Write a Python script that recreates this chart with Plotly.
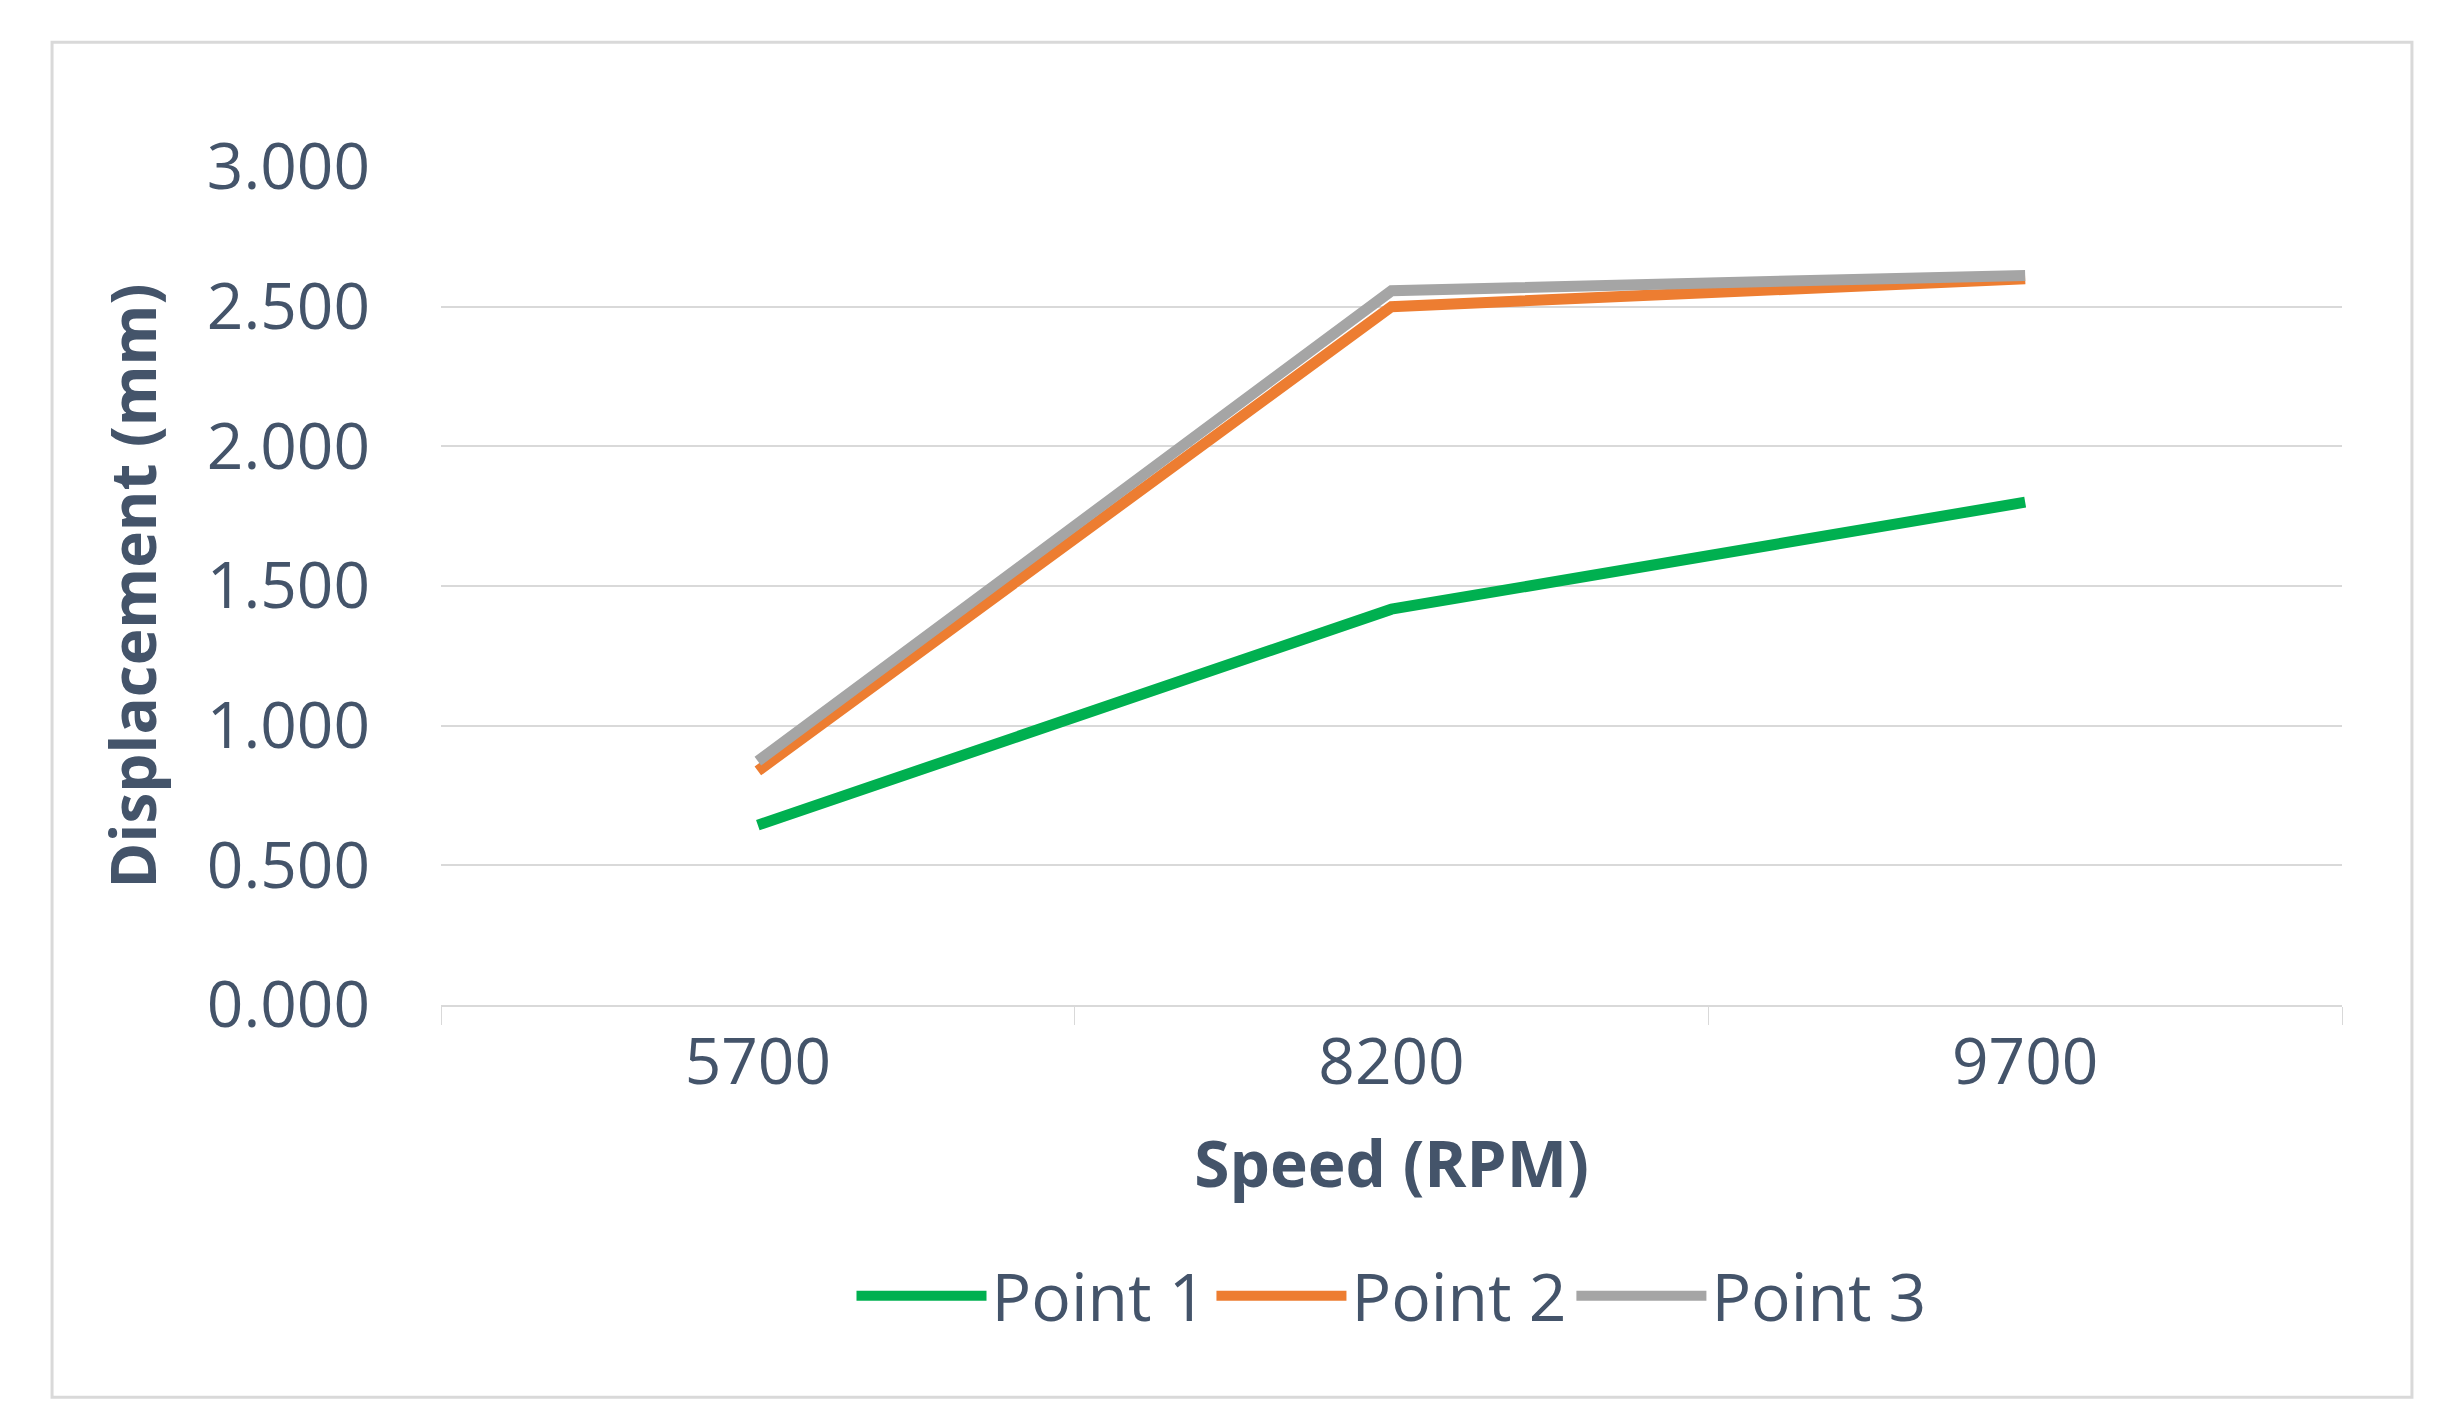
import plotly.graph_objects as go

speeds = ["5700", "8200", "9700"]
point1 = [0.644, 1.417, 1.800]
point2 = [0.838, 2.500, 2.600]
point3 = [0.873, 2.557, 2.612]
yticks = [0, 0.5, 1, 1.5, 2, 2.5, 3]

C = "#44546A"
F = "Open Sans"
fig = go.Figure()
series = [("Point 1", point1, "#00B050", [-42, 0, 0], [18, 18, 18]),
          ("Point 2", point2, "#ED7D31", [28, 0, 0], [0, 0, 18]),
          ("Point 3", point3, "#A5A5A5", [85, 55, 68], [0, 22, 18])]
annos = []
for name, vals, col, ys, xs in series:
    fig.add_trace(go.Scatter(x=speeds, y=vals, name=name, mode="lines",
                             line=dict(color=col, width=11)))
    for s, v, dy, dx in zip(speeds, vals, ys, xs):
        annos.append(dict(x=s, y=v, xref="x", yref="y", text=f"{v:.3f}", showarrow=False,
                          yshift=dy, xshift=dx, font=dict(family=F, size=64, color=C)))
fig.update_layout(
    width=2440, height=1424, paper_bgcolor="white", plot_bgcolor="white",
    margin=dict(l=433, r=106, t=159, b=427),
    font=dict(family=F, color=C, size=64),
    annotations=annos,
    xaxis=dict(type="category", range=[-0.5, 2.5], tickson="boundaries", ticks="outside",
               ticklen=18, tickcolor="#D9D9D9", showgrid=False, showline=True,
               linecolor="#D9D9D9", linewidth=2, tickfont=dict(size=64, color=C),
               title=dict(text="<b>Speed (RPM)</b>", font=dict(size=64, color=C), standoff=40)),
    yaxis=dict(range=[0, 3.0], tickvals=yticks, tickformat=".3f", showgrid=True,
               gridcolor="#D9D9D9", gridwidth=2, zeroline=False, ticks="",
               tickfont=dict(size=64, color=C), ticklabelstandoff=70,
               title=dict(text="<b>Displacement (mm)</b>", font=dict(size=62, color=C), standoff=30)),
    showlegend=True,
    legend=dict(orientation="h", x=0.5, xanchor="center", y=-0.347, yanchor="middle",
                font=dict(size=66, color=C), itemwidth=130),
    shapes=[dict(type="rect", xref="paper", yref="paper", x0=-0.2046, x1=1.0368,
                 y0=-0.468, y1=1.149, line=dict(color="#D9D9D9", width=3))],
)
fig.write_html("out.html")
